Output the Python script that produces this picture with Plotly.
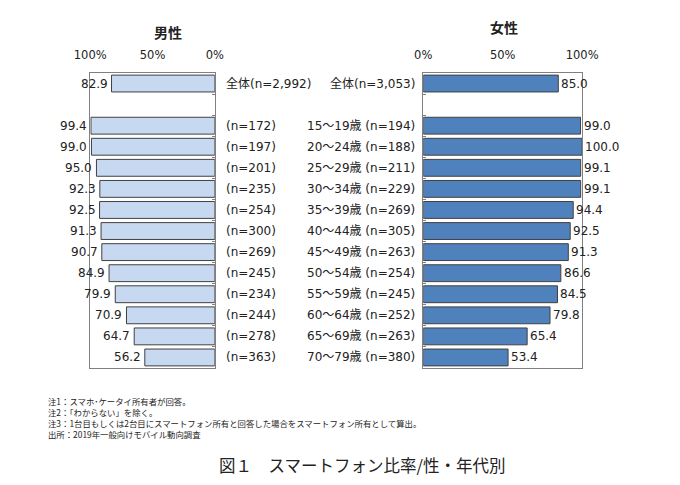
import plotly.graph_objects as go

male_labels = ["全体(n=2,992)", "", "(n=172)", "(n=197)", "(n=201)", "(n=235)", "(n=254)", "(n=300)",
               "(n=269)", "(n=245)", "(n=234)", "(n=244)", "(n=278)", "(n=363)"]
female_labels = ["全体(n=3,053)", "", "15～19歳 (n=194)", "20～24歳 (n=188)", "25～29歳 (n=211)",
                 "30～34歳 (n=229)", "35～39歳 (n=269)", "40～44歳 (n=305)", "45～49歳 (n=263)",
                 "50～54歳 (n=254)", "55～59歳 (n=245)", "60～64歳 (n=252)", "65～69歳 (n=263)",
                 "70～79歳 (n=380)"]
male_values = [82.9, None, 99.4, 99.0, 95.0, 92.3, 92.5, 91.3, 90.7, 84.9, 79.9, 70.9, 64.7, 56.2]
female_values = [85.0, None, 99.0, 100.0, 99.1, 99.1, 94.4, 92.5, 91.3, 86.6, 84.5, 79.8, 65.4, 53.4]
tick_vals = [0, 50, 100]
tick_text = ["0%", "50%", "100%"]
notes = ["注1：スマホ･ケータイ所有者が回答。",
         "注2：「わからない」を除く。",
         "注3：1台目もしくは2台目にスマートフォン所有と回答した場合をスマートフォン所有として算出。",
         "出所：2019年一般向けモバイル動向調査"]
title_text = "図１　スマートフォン比率/性・年代別"

W, H = 680, 485
FONT = "Verdana, DejaVu Sans, Noto Sans CJK JP"
JP = "Noto Sans CJK JP"
TXT = "#222222"
rows = list(range(len(male_labels)))

def px(x):
    return x / W

def py(y):
    return 1 - y / H

fig = go.Figure()
fig.add_trace(go.Bar(x=male_values, y=rows, orientation="h", xaxis="x", yaxis="y",
                     marker=dict(color="#C6D9F1", line=dict(color="#404040", width=1)),
                     width=0.8, showlegend=False, hoverinfo="x"))
fig.add_trace(go.Bar(x=female_values, y=rows, orientation="h", xaxis="x2", yaxis="y2",
                     marker=dict(color="#4F81BD", line=dict(color="#404040", width=1)),
                     width=0.8, showlegend=False, hoverinfo="x"))

ann = []
for i in rows:
    if male_values[i] is not None:
        ann.append(dict(x=male_values[i], y=i, xref="x", yref="y", text=f"{male_values[i]:.1f}",
                        xanchor="right", yanchor="middle", xshift=-2, showarrow=False,
                        font=dict(size=12, color=TXT, family=FONT)))
        ann.append(dict(x=female_values[i], y=i, xref="x2", yref="y2", text=f"{female_values[i]:.1f}",
                        xanchor="left", yanchor="middle", xshift=1, showarrow=False,
                        font=dict(size=12, color=TXT, family=FONT)))
    if male_labels[i]:
        ann.append(dict(x=px(219), y=i, xref="paper", yref="y", text=male_labels[i],
                        xanchor="left", yanchor="middle", showarrow=False,
                        font=dict(size=12, color=TXT, family=FONT)))
    if female_labels[i]:
        ann.append(dict(x=px(421), y=i, xref="paper", yref="y", text=female_labels[i],
                        xanchor="right", yanchor="middle", showarrow=False,
                        font=dict(size=12, color=TXT, family=FONT)))

ann.append(dict(x=px(160), y=py(32), xref="paper", yref="paper", text="<b>男性</b>",
                xanchor="center", yanchor="middle",
                showarrow=False, font=dict(size=14, color=TXT, family=JP)))
ann.append(dict(x=px(513), y=py(27), xref="paper", yref="paper", text="<b>女性</b>",
                xanchor="center", yanchor="middle",
                showarrow=False, font=dict(size=14, color=TXT, family=JP)))
ann.append(dict(x=px(32), y=py(393), xref="paper", yref="paper", text="<br>".join(notes),
                xanchor="left", yanchor="top", align="left", showarrow=False,
                font=dict(size=8.4, color=TXT, family=JP)))
ann.append(dict(x=px(364), y=py(465), xref="paper", yref="paper", text=title_text,
                xanchor="center", yanchor="middle", showarrow=False,
                font=dict(size=16.5, color=TXT, family=JP)))

bounds = [i + 0.5 for i in rows[:-1]]
xcommon = dict(side="top", tickvals=tick_vals, ticktext=tick_text, showgrid=False, zeroline=False,
               showline=True, mirror=True, linecolor="#808080", linewidth=1, ticks="",
               ticklabelstandoff=8,
               tickfont=dict(size=11.5, color=TXT, family=FONT), fixedrange=True)
ycommon = dict(range=[len(rows) - 0.5, -0.5], showgrid=False, zeroline=False, showline=True,
               mirror=True, linecolor="#808080", linewidth=1, tickvals=bounds, ticktext=[""] * len(bounds),
               ticks="inside", ticklen=3, tickcolor="#808080", fixedrange=True)

fig.update_layout(
    width=W, height=H, margin=dict(l=0, r=0, t=0, b=0),
    paper_bgcolor="white", plot_bgcolor="white",
    xaxis=dict(domain=[px(78), px(209)], range=[100, 0], anchor="y", **xcommon),
    xaxis2=dict(domain=[px(428), px(595)], range=[0, 100], anchor="y2", **xcommon),
    yaxis=dict(domain=[py(368), py(73)], anchor="x", side="right", **ycommon),
    yaxis2=dict(domain=[py(368), py(73)], anchor="x2", side="left", **ycommon),
    annotations=ann, bargap=0.2,
)
fig.write_html("out.html")
